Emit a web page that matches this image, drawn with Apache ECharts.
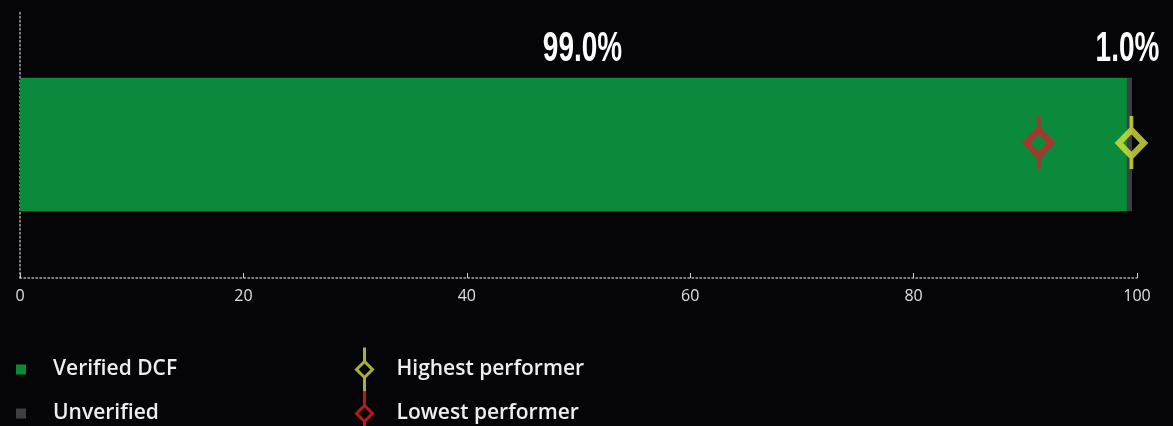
<!DOCTYPE html>
<html><head><meta charset="utf-8">
<script src="https://cdn.jsdelivr.net/npm/echarts@6/dist/echarts.min.js"></script>
<style>
html,body{margin:0;padding:0;background:#050507;}#c{width:1173px;height:426px;}
</style>
</head><body><div id="c"></div>
<script>
var categories = ['DCF'];
var verifiedValues = [99.1];
var unverifiedValues = [0.45];
var barLabels = ['99.0%', '1.0%'];
var highestValues = [99.5];
var lowestValues = [91.2];
var xTicks = [0, 20, 40, 60, 80, 100];

var markerPath = 'path://M12.5,0 L12.5,14 L0,27 L12.5,40 L25,27 L12.5,14 M12.5,40 L12.5,53';
var legendPath = 'path://M10,0 L10,14 L2,22 L10,30 L18,22 L10,14 M10,30 L10,44';

function legendItem(name, left, top, extra) {
  return Object.assign({
    orient: 'vertical', left: left, top: top, padding: 0,
    data: [name]
  }, extra);
}

var chart = echarts.init(document.getElementById('c'));
var sqText = { color: '#eeeeee', fontSize: 21, fontWeight: 600, fontFamily: "'Open Sans', sans-serif", padding: [0, 0, 0, 22] };
var pfText = { color: '#eeeeee', fontSize: 21, fontWeight: 600, fontFamily: "'Open Sans', sans-serif", padding: [0, 0, 0, 17] };
chart.setOption({
  backgroundColor: '#050507',
  animation: false,
  grid: { left: 20, right: 36, top: 11, bottom: 148, containLabel: false },
  xAxis: {
    type: 'value', min: xTicks[0], max: xTicks[xTicks.length - 1], interval: 20,
    axisLine: { show: true, lineStyle: { color: '#a8a8a8', type: [1.5, 2.5], width: 1.5 } },
    axisTick: { show: true, inside: true, length: 5, lineStyle: { color: '#d0d0d0' } },
    splitLine: { show: false },
    axisLabel: { color: '#e0e0e0', fontSize: 16, fontFamily: "'Open Sans', sans-serif", margin: 10 }
  },
  yAxis: {
    type: 'category', data: categories,
    axisLine: { show: true, lineStyle: { color: '#a8a8a8', type: [1.5, 2.5], width: 1.5 } },
    axisTick: { show: false },
    axisLabel: { show: false }
  },
  legend: [
    legendItem('Verified DCF', 16, 359, { icon: 'rect', itemWidth: 10, itemHeight: 10, textStyle: sqText }),
    legendItem('Unverified', 16, 403, { icon: 'rect', itemWidth: 10, itemHeight: 10, textStyle: sqText }),
    legendItem({ name: 'Highest performer', icon: legendPath, itemStyle: { color: 'transparent', borderColor: '#d3df3a', borderWidth: 3 } },
      355, 346, { itemWidth: 20, itemHeight: 44, textStyle: pfText }),
    legendItem({ name: 'Lowest performer', icon: legendPath, itemStyle: { color: 'transparent', borderColor: '#ee1c1c', borderWidth: 3 } },
      355, 390, { itemWidth: 20, itemHeight: 44, textStyle: pfText })
  ],
  series: [
    {
      name: 'Verified DCF', type: 'bar', stack: 's', barWidth: '50%',
      data: verifiedValues,
      itemStyle: { color: '#0c8a3b' }
    },
    {
      name: 'Unverified', type: 'bar', stack: 's', barWidth: '50%',
      data: unverifiedValues,
      itemStyle: { color: '#3e3e43' }
    },
    {
      name: 'Highest performer', type: 'scatter', symbol: markerPath, symbolSize: [25, 53],
      symbolOffset: [0, -2],
      data: highestValues.map(function (v, i) { return [v, categories[i]]; }),
      itemStyle: { color: 'transparent', borderColor: '#d8e23c', borderWidth: 5.5 },
      z: 5
    },
    {
      name: 'Lowest performer', type: 'scatter', symbol: markerPath, symbolSize: [25, 53],
      symbolOffset: [0, -2],
      data: lowestValues.map(function (v, i) { return [v, categories[i]]; }),
      itemStyle: { color: 'transparent', borderColor: '#cc2230', borderWidth: 5.5 },
      z: 5
    }
  ]
});

// Condensed value labels placed from the bars' own layout (library scales)
var labelOffsets = [9, -2];
var graphics = [];
[0, 1].forEach(function (si) {
  var lay = chart.getModel().getSeriesByIndex(si).getData().getItemLayout(0);
  var cx = lay.x + lay.width / 2 + labelOffsets[si];
  var top = Math.min(lay.y, lay.y + lay.height);
  graphics.push({
    type: 'text', x: cx, y: top - 7, scaleX: 0.65, z: 10,
    style: {
      text: barLabels[si], fill: '#ffffff',
      font: "bold 43px 'Liberation Sans', Arial, sans-serif",
      textAlign: 'center', textVerticalAlign: 'bottom'
    }
  });
});
chart.setOption({ graphic: graphics });
</script></body></html>
